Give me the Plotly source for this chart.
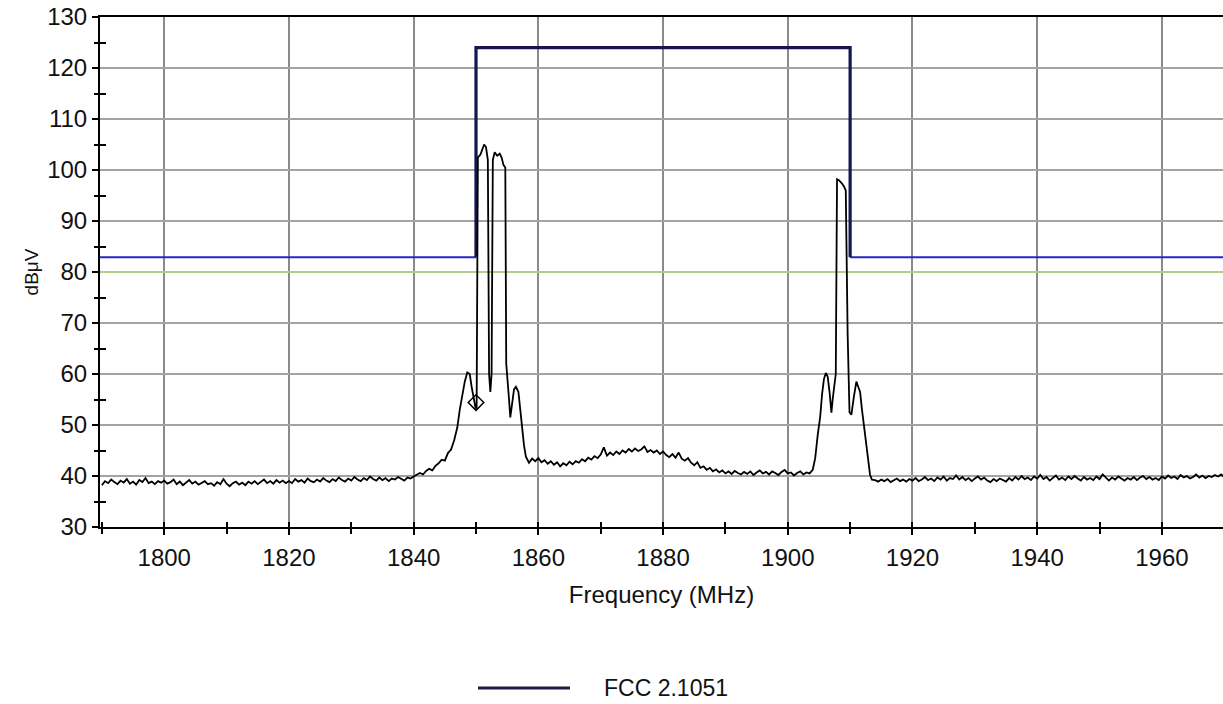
import numpy as np
import plotly.graph_objects as go

# ---------------- data ----------------
# measured sweep, left baseline: 1790.0 .. 1840.0 MHz, 0.5 MHz steps
base_left_start = 1790.0
base_left_step = 0.5
base_left_level = [
    38.2, 39.0, 38.6, 39.3, 38.8, 38.4, 39.1, 38.7, 39.4, 38.5,
    38.9, 38.3, 39.2, 38.8, 39.6, 38.6, 38.9, 38.4, 39.0, 38.7,
    39.1, 38.5, 38.8, 39.3, 38.4, 38.9, 38.2, 38.7, 39.2, 38.5,
    38.9, 38.3, 38.7, 39.0, 38.4, 38.6, 38.1, 38.8, 38.4, 39.4,
    38.5, 38.0, 38.6, 38.9, 38.3, 38.7, 38.2, 38.9, 38.5, 39.0,
    38.4, 38.8, 39.3, 38.6, 39.0, 38.5, 39.2, 38.7, 39.1, 38.6,
    39.0, 38.6, 39.4, 38.9, 39.2, 38.7, 39.5, 39.0, 38.8, 39.3,
    38.9, 39.6, 39.1, 38.8, 39.4, 39.0, 39.7, 39.2, 38.9, 39.5,
    39.1, 39.8, 39.3, 39.0, 39.6, 39.2, 39.9, 39.4, 39.1, 39.7,
    39.2, 39.6, 39.0, 39.5, 39.3, 39.8, 39.4, 39.1, 39.7, 39.5,
    39.9,
]

# lower band emission (1850 MHz edge)
peak1_freq = [
    1840.5, 1841.0, 1841.5, 1842.0, 1842.5, 1843.0, 1843.5, 1844.0, 1844.5, 1845.0,
    1845.5, 1846.0, 1846.5, 1847.0, 1847.4, 1847.8, 1848.2, 1848.6, 1849.0, 1849.3,
    1849.6, 1849.9, 1850.1, 1850.3, 1850.7, 1851.0, 1851.3, 1851.6, 1851.9, 1852.1,
    1852.3, 1852.5, 1852.7, 1853.0, 1853.4, 1853.8, 1854.1, 1854.4, 1854.7, 1854.85,
    1855.0, 1855.3, 1855.5, 1855.8, 1856.1, 1856.4, 1856.8, 1857.1, 1857.4, 1857.7,
    1858.0,
]
peak1_level = [
    40.2, 40.6, 40.3, 41.0, 41.4, 41.1, 42.0, 42.5, 43.2, 43.0,
    44.5, 45.2, 47.0, 49.5, 53.0, 56.0, 58.5, 60.3, 60.0, 57.5,
    55.0, 53.5, 53.2, 102.5, 103.0, 104.0, 105.0, 104.5, 102.0, 60.0,
    56.5, 60.0, 102.0, 103.5, 102.8, 103.2, 102.5, 101.0, 100.5, 62.0,
    59.0, 55.0, 51.5, 54.0, 57.0, 57.5, 56.5, 53.0, 49.0, 46.0,
    43.8,
]

# in-band floor: 1858.5 .. 1903.5 MHz, 0.5 MHz steps
mid_start = 1858.5
mid_step = 0.5
mid_level = [
    42.6, 43.4, 42.9, 43.5, 42.7, 43.1, 42.4, 42.9, 42.2, 42.7,
    41.9, 42.5, 42.1, 42.8, 42.3, 42.9, 42.6, 43.3, 42.9, 43.6,
    43.2, 43.9, 43.5, 44.2, 45.6, 44.0, 44.6, 44.1, 44.8, 44.3,
    45.0, 44.6, 45.3, 44.8, 45.4, 44.9, 45.2, 45.8, 44.7, 45.1,
    44.6, 45.0, 44.3, 44.8, 44.1, 43.7, 44.3, 43.6, 44.6, 43.4,
    43.0, 43.5, 42.6, 42.1, 42.7, 41.6, 41.9, 41.2, 41.6, 40.9,
    41.3, 40.7, 41.1, 40.5, 40.9, 40.4, 41.0, 40.6, 40.3, 40.8,
    40.4, 40.9, 40.2, 40.7, 41.1, 40.5, 40.8, 40.3, 40.9, 40.6,
    40.2, 40.8, 41.2, 40.5, 40.7, 40.1, 40.6, 40.9, 40.3, 40.7,
    40.5,
]

# upper band emission (1910 MHz edge)
peak2_freq = [
    1904.0, 1904.4, 1904.8, 1905.2, 1905.5, 1905.8, 1906.1, 1906.4, 1906.7, 1907.0,
    1907.2, 1907.4, 1907.7, 1907.9, 1908.2, 1908.6, 1909.0, 1909.3, 1909.6, 1909.9,
    1910.2, 1910.6, 1911.0, 1911.3, 1911.6, 1911.9, 1912.2, 1912.6, 1912.9, 1913.2,
    1913.5,
]
peak2_level = [
    41.2, 43.5, 48.0, 51.6, 56.0, 59.0, 60.2, 59.5, 56.5, 52.4,
    55.0, 57.0, 60.0, 98.2, 98.0, 97.5, 96.8, 96.0, 68.0, 52.5,
    52.0, 55.5, 58.5, 57.5, 56.5, 53.0, 50.0, 45.0, 42.5, 40.2,
    39.3,
]

# right baseline: 1914.0 .. 1970.0 MHz, 0.5 MHz steps
base_right_start = 1914.0
base_right_step = 0.5
base_right_level = [
    39.2, 38.9, 39.3, 39.0, 39.4, 38.8, 39.2, 39.5, 39.0, 39.3,
    38.9, 39.4, 39.1, 39.6, 39.0, 39.3, 39.8, 39.2, 39.5, 39.0,
    39.7, 39.3, 39.9, 39.1, 39.6, 39.4, 40.1, 39.3, 39.8, 39.2,
    39.6, 39.0, 39.5, 39.9, 39.3, 39.7, 39.1, 38.8, 39.4, 39.0,
    39.5, 39.2, 38.9, 39.6, 39.1, 39.8, 39.3, 40.0, 39.4, 39.7,
    39.2, 39.9, 39.5, 40.2, 39.4, 39.8, 39.1, 39.6, 40.1, 39.3,
    39.7, 39.2, 39.9, 39.4, 40.0, 39.5, 39.1, 39.8, 39.3, 39.6,
    39.2, 39.9, 39.4, 40.3, 39.6, 39.1, 39.7, 39.3, 39.9, 39.5,
    39.1, 39.6, 39.3, 39.8, 39.2, 39.7, 40.0, 39.4, 39.8, 39.3,
    39.6, 39.2, 39.9, 39.5, 40.1, 39.6, 39.9, 39.4, 40.2, 39.7,
    40.0, 39.5, 39.8, 40.3, 39.7, 40.1, 39.6, 40.0, 39.8, 40.2,
    39.9, 40.3, 39.8,
]

# FCC 2.1051 limit line
limit_freq = [1789.7, 1850.0, 1850.0, 1910.0, 1910.0, 1969.8]
limit_level = [82.9, 82.9, 124.0, 124.0, 82.9, 82.9]
limit_name = "FCC 2.1051"

# secondary reference level (pale green line)
ref_level = 80

# cursor marker
marker_freq = [1850.0]
marker_level = [54.4]

x_range = [1789.7, 1969.8]
y_range = [30, 130]
x_label = "Frequency (MHz)"
y_label = "dBμV"

# ---------------- build series ----------------
def seg(start, step, levels):
    return list(start + step * np.arange(len(levels)))

freq = (seg(base_left_start, base_left_step, base_left_level) + peak1_freq
        + seg(mid_start, mid_step, mid_level) + peak2_freq
        + seg(base_right_start, base_right_step, base_right_level))
level = base_left_level + peak1_level + mid_level + peak2_level + base_right_level

FONT = "Liberation Sans, Arial, sans-serif"

fig = go.Figure()

# pale green reference level
fig.add_trace(go.Scatter(x=x_range, y=[ref_level, ref_level], mode="lines",
                         line=dict(color="#b4cc8c", width=2), showlegend=False, hoverinfo="skip"))

# limit: side parts (blue) and band part (navy)
fig.add_trace(go.Scatter(x=limit_freq[:2], y=limit_level[:2], mode="lines",
                         line=dict(color="#2626c4", width=2), showlegend=False, hoverinfo="skip"))
fig.add_trace(go.Scatter(x=limit_freq[4:], y=limit_level[4:], mode="lines",
                         line=dict(color="#2626c4", width=2), showlegend=False, hoverinfo="skip"))
fig.add_trace(go.Scatter(x=limit_freq[1:5], y=limit_level[1:5], mode="lines", name=limit_name,
                         line=dict(color="#16164f", width=3.2), showlegend=False))

# measured trace
fig.add_trace(go.Scatter(x=freq, y=level, mode="lines",
                         line=dict(color="black", width=1.8), showlegend=False))

fig.add_trace(go.Scatter(x=marker_freq, y=marker_level, mode="markers",
                         marker=dict(symbol="diamond-open", size=12, color="black",
                                     line=dict(width=1.5, color="black")),
                         showlegend=False))

# dummy trace for overlay axes (crossing ticks)
fig.add_trace(go.Scatter(x=[None], y=[None], xaxis="x2", yaxis="y2", showlegend=False))

# manual legend
fig.add_shape(type="line", xref="paper", yref="paper", x0=0.3366, x1=0.4185,
              y0=-0.3157, y1=-0.3157, line=dict(color="#1a1a45", width=3))
fig.add_annotation(text=limit_name, xref="paper", yref="paper", x=0.447, y=-0.3157,
                   xanchor="left", yanchor="middle", showarrow=False,
                   font=dict(family=FONT, size=23, color="#111"))

tickfont = dict(family=FONT, size=24, color="#111")

fig.update_layout(
    width=1223, height=704,
    margin=dict(l=100, r=0, t=17, b=177),
    paper_bgcolor="white", plot_bgcolor="white",
    showlegend=False,
    xaxis=dict(range=x_range, tick0=1800, dtick=20, ticks="outside", ticklen=6, tickwidth=2,
               tickcolor="black", showline=True, linecolor="black", linewidth=2, mirror=True,
               showgrid=True, gridcolor="#8a8a8a", gridwidth=1.5, zeroline=False,
               minor=dict(ticks="outside", ticklen=5, tickwidth=2, tickcolor="black",
                          tick0=1800, dtick=10, showgrid=False),
               tickfont=tickfont, ticklabelstandoff=2,
               title=dict(text=x_label, font=dict(family=FONT, size=24, color="#111"), standoff=16)),
    yaxis=dict(range=y_range, tick0=30, dtick=10, ticks="outside", ticklen=6, tickwidth=2,
               tickcolor="black", showline=True, linecolor="black", linewidth=2,
               showgrid=True, gridcolor="#a3a3a3", gridwidth=2, zeroline=False,
               minor=dict(ticks="outside", ticklen=4, tickwidth=2, tickcolor="black",
                          tick0=30, dtick=5, showgrid=False),
               tickfont=tickfont,
               title=dict(text=y_label, font=dict(family=FONT, size=19, color="#111"), standoff=4)),
    xaxis2=dict(range=x_range, overlaying="x", anchor="y2", side="bottom",
                tick0=1800, dtick=10, ticks="inside", ticklen=5, tickwidth=2, tickcolor="black",
                showticklabels=False, showgrid=False, zeroline=False, showline=False),
    yaxis2=dict(range=y_range, overlaying="y", anchor="x2", side="left",
                tickvals=[35, 45, 55, 65, 75, 85, 95, 105, 115, 125],
                ticks="inside", ticklen=6, tickwidth=2, tickcolor="black",
                showticklabels=False, showgrid=False, zeroline=False, showline=False),
)

fig.write_html("out.html")
